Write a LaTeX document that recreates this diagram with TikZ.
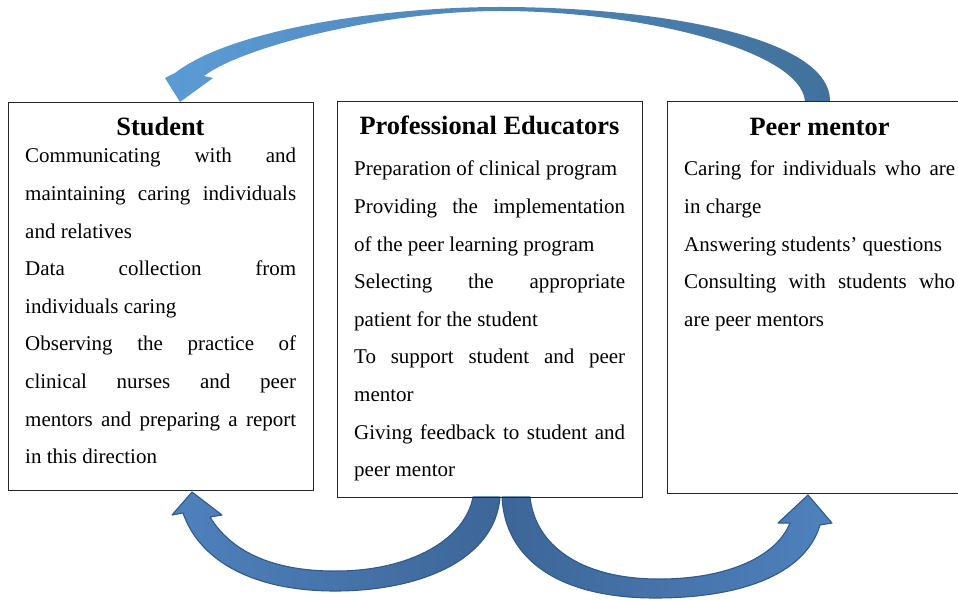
\documentclass[tikz,border=0pt]{standalone}
\usepackage{fontspec}
\setmainfont{Liberation Serif}
\definecolor{toplight}{HTML}{5B9BD5}
\definecolor{topdark}{HTML}{41719C}
\definecolor{botlight}{HTML}{4F81BD}
\definecolor{botdark}{HTML}{3D6698}
\definecolor{botline}{HTML}{2F5A8C}
\newcommand\bodytext[1]{\begin{minipage}[t]{271pt}\fontsize{21}{37.6}\selectfont #1\end{minipage}}
\newcommand\jl[1]{\makebox[271pt][s]{#1}\\}
\tikzset{
  box/.style={draw=black!85, line width=1.3pt, rectangle, inner sep=0pt, anchor=north west},
  ttl/.style={anchor=base, inner sep=0pt, font=\fontsize{26.4}{30}\selectfont\bfseries},
  body/.style={anchor=base west, inner sep=0pt},
  toparrow/.style={left color=toplight, right color=topdark, draw=none},
  botarrow/.style={draw=botline, line width=1.1pt, line join=round}
}
\begin{document}
\begin{tikzpicture}[x=1pt,y=-1pt]
\useasboundingbox (0,0) rectangle (958,601);
\clip (0,0) rectangle (958,601);
% top arrow: peer mentor -> student
\path[toparrow] (830,101) .. controls (830,35) and (650,7) .. (500,7)
  .. controls (380,7) and (230,30) .. (175,73) -- (165,78) -- (180,102) -- (213,78) -- (204,76)
  .. controls (240,48) and (380,11) .. (500,11)
  .. controls (640,11) and (800,50) .. (805,101) -- cycle;
% bottom left arrow: educators -> student
\path[botarrow, left color=botlight, right color=botdark]
  (192,492) -- (222,515) -- (210,517)
  .. controls (235,558) and (285,572) .. (340,571)
  .. controls (410,570) and (465,540) .. (473,497) -- (500,497)
  .. controls (495,560) and (420,591) .. (335,591)
  .. controls (255,591) and (200,562) .. (183,513) -- (172,515) -- cycle;
% bottom right arrow: educators -> peer mentor
\path[botarrow, left color=botdark, right color=botlight]
  (808,495) -- (832,523) -- (820,525)
  .. controls (805,575) and (740,598) .. (655,598)
  .. controls (560,598) and (505,560) .. (502,497) -- (530,497)
  .. controls (535,545) and (580,578) .. (655,579)
  .. controls (720,580) and (775,560) .. (790,523) -- (778,523) -- cycle;
% boxes
\node[box, minimum width=305pt, minimum height=388pt] (stud) at (8,102) {};
\node[box, minimum width=305pt, minimum height=396pt] (prof) at (337,101) {};
\node[box, minimum width=305pt, minimum height=392pt] (peer) at (667,101) {};
% titles
\node[ttl] (studt) at (160.5,136) {Student};
\node[ttl] (proft) at (489.5,135) {Professional Educators};
\node[ttl] (peert) at (819.5,136) {Peer mentor};
% bodies
\node[body] (studb) at (25,163) {\bodytext{%
\jl{Communicating with and}
\jl{maintaining caring individuals}
and relatives\\
\jl{Data collection from}
individuals caring\\
\jl{Observing the practice of}
\jl{clinical nurses and peer}
\jl{mentors and preparing a report}
in this direction}};
\node[body] (profb) at (354,176) {\bodytext{%
Preparation of clinical program\\
\jl{Providing the implementation}
of the peer learning program\\
\jl{Selecting the appropriate}
patient for the student\\
\jl{To support student and peer}
mentor\\
\jl{Giving feedback to student and}
peer mentor}};
\node[body] (peerb) at (684,176) {\bodytext{%
\jl{Caring for individuals who are}
in charge\\
Answering students' questions\\
\jl{Consulting with students who}
are peer mentors}};
\end{tikzpicture}
\end{document}
